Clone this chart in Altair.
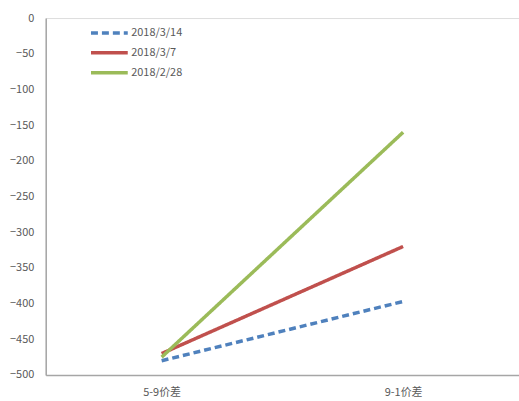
import altair as alt
import pandas as pd

categories = ["5-9价差", "9-1价差"]
series_names = ["2018/3/14", "2018/3/7", "2018/2/28"]
values_0314 = [-480, -397]
values_0307 = [-470, -320]
values_0228 = [-475, -160]

rows = []
for name, vals in zip(series_names, [values_0314, values_0307, values_0228]):
    for c, v in zip(categories, vals):
        rows.append({"cat": c, "series": name, "value": v})
df = pd.DataFrame(rows)

colors = ["#4F81BD", "#C0504D", "#9BBB59"]
dashes = [[7, 4], [1, 0], [1, 0]]
font = "Noto Sans CJK SC"

chart = alt.Chart(df).mark_line(strokeWidth=3.5).encode(
    x=alt.X("cat:N", sort=categories, title=None,
            scale=alt.Scale(type="point", padding=0.48),
            axis=alt.Axis(labelAngle=0, ticks=False, domainColor="#A6A6A6",
                          domainWidth=1.5, labelPadding=12, labelFontSize=11,
                          labelColor="#595959", labelFont=font, grid=False)),
    y=alt.Y("value:Q", title=None,
            scale=alt.Scale(domain=[-500, 0], nice=False, zero=False),
            axis=alt.Axis(values=list(range(-500, 1, 50)), ticks=False,
                          domainColor="#A6A6A6", domainWidth=1.5, grid=False,
                          labelPadding=12, labelFontSize=11, labelColor="#595959",
                          labelFont=font)),
    color=alt.Color("series:N", sort=series_names,
                    scale=alt.Scale(domain=series_names, range=colors),
                    legend=alt.Legend(title=None, orient="none", legendX=53, legendY=4,
                                      symbolType="M-2,0L2,0", symbolSize=342,
                                      symbolStrokeWidth=3.5, labelFontSize=11,
                                      labelColor="#595959", labelFont=font,
                                      rowPadding=2, labelOffset=11)),
    strokeDash=alt.StrokeDash("series:N", sort=series_names,
                              scale=alt.Scale(domain=series_names, range=dashes),
                              legend=None),
    order=alt.Order("series:N"),
).properties(
    width=476, height=359,
    autosize=alt.AutoSizeParams(type="none"),
    padding={"left": 46, "top": 17, "right": 0, "bottom": 25},
).configure_view(stroke=None).configure(background="white")

chart.save("out.html", embed_options={"renderer": "svg", "actions": False})
